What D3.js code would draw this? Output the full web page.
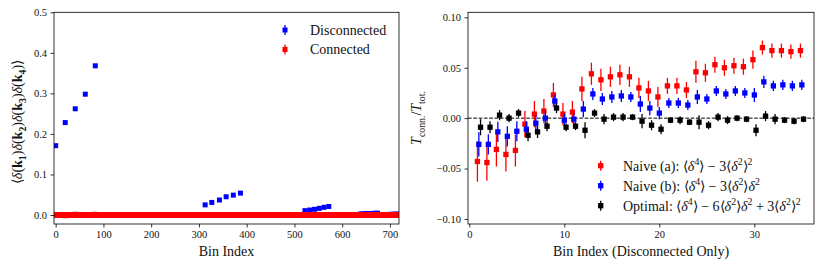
<!DOCTYPE html>
<html>
<head>
<meta charset="utf-8">
<script src="https://cdn.jsdelivr.net/npm/d3@7"></script>
<style>
  body { margin: 0; background: #fff; }
</style>
</head>
<body>
<svg width="826" height="273"></svg>
<script>
// left panel: all 4-point bins
const nBins = 720;
const discBins = [0, 20, 41, 62, 83,
  313, 327, 343, 357, 372, 387,
  522, 532, 542, 552, 562, 572,
  638, 643, 647, 652, 656, 661, 665, 670, 674,
  694, 697, 700, 703, 706, 709, 712, 715, 718];
const discVals = [0.171, 0.228, 0.262, 0.298, 0.368,
  0.025, 0.031, 0.037, 0.045, 0.049, 0.054,
  0.0107, 0.0123, 0.014, 0.0164, 0.019, 0.021,
  0.0025, 0.0027, 0.003, 0.0032, 0.0035, 0.0037, 0.004, 0.0042, 0.0045,
  0.0012, 0.0013, 0.0014, 0.0015, 0.0016, 0.0017, 0.0018, 0.0019, 0.002];
// connected part reads as zero everywhere except a few faint points
const connDevBins = [20, 41, 82];
const connDevVals = [-0.003, 0.003, 0.003];

// right panel: disconnected bins only
const bins = d3.range(1, 36);
const naiveA = [-0.043, -0.044, -0.031, -0.036, -0.032, -0.006, 0.004, 0.007, 0.023, 0.004,
  0.006, 0.029, 0.044, 0.038, 0.041, 0.043, 0.041, 0.030, 0.027, 0.021,
  0.032, 0.032, 0.028, 0.046, 0.045, 0.053, 0.050, 0.052, 0.051, 0.058,
  0.070, 0.067, 0.067, 0.066, 0.067];
const naiveAErr = [0.020, 0.018, 0.017, 0.017, 0.016, 0.013, 0.013, 0.012, 0.012, 0.011,
  0.011, 0.012, 0.011, 0.011, 0.010, 0.010, 0.010, 0.010, 0.010, 0.010,
  0.008, 0.008, 0.008, 0.011, 0.009, 0.008, 0.008, 0.008, 0.008, 0.009,
  0.007, 0.007, 0.007, 0.007, 0.007];
const naiveB = [-0.026, -0.026, -0.0136, -0.018, -0.013, -0.011, -0.005, 0.000, 0.017, -0.002,
  -0.001, 0.009, 0.024, 0.019, 0.021, 0.022, 0.021, 0.014, 0.010, 0.005,
  0.015, 0.015, 0.013, 0.021, 0.019, 0.027, 0.024, 0.027, 0.025, 0.023,
  0.036, 0.032, 0.033, 0.032, 0.033];
const naiveBErr = [0.012, 0.010, 0.010, 0.010, 0.010, 0.008, 0.008, 0.007, 0.006, 0.006,
  0.006, 0.008, 0.006, 0.006, 0.006, 0.006, 0.005, 0.008, 0.007, 0.006,
  0.005, 0.005, 0.005, 0.007, 0.005, 0.005, 0.005, 0.005, 0.005, 0.007,
  0.006, 0.005, 0.005, 0.005, 0.005];
const optimal = [-0.009, -0.009, 0.003, 0.000, 0.005, -0.017, -0.0136, -0.008, 0.010, -0.009,
  -0.008, -0.012, 0.005, -0.001, 0.001, 0.001, 0.001, -0.003, -0.007, -0.011,
  -0.002, -0.002, -0.004, -0.004, -0.007, 0.001, -0.002, 0.000, -0.001, -0.012,
  0.002, -0.001, -0.002, -0.003, -0.001];
const optimalErr = [0.008, 0.006, 0.005, 0.004, 0.004, 0.006, 0.006, 0.005, 0.005, 0.004,
  0.004, 0.008, 0.004, 0.005, 0.004, 0.004, 0.003, 0.007, 0.005, 0.005,
  0.003, 0.004, 0.003, 0.007, 0.004, 0.004, 0.004, 0.003, 0.003, 0.006,
  0.005, 0.005, 0.003, 0.003, 0.003];

const svg = d3.select("svg");
const serif = '"Liberation Serif"';
const tickFont = 10.5, labFont = 14;

function txt(sel, size) {
  return sel.append("text").style("font-family", serif).style("font-size", size + "px").attr("fill", "#111");
}

// text with italic / bold / sub / sup pieces
function rich(sel, parts, size) {
  let shift = 0;
  parts.forEach(p => {
    const ts = sel.append("tspan").text(p.t);
    if (p.i) ts.style("font-style", "italic");
    if (p.b) ts.style("font-weight", "bold");
    const target = p.sub ? size * 0.3 : p.sup ? -size * 0.4 : 0;
    if (target !== shift) ts.attr("dy", target - shift);
    if (p.sub || p.sup) ts.style("font-size", (size * 0.7) + "px");
    shift = target;
  });
}

function frame(g, w, h) {
  g.append("rect").attr("width", w).attr("height", h)
    .attr("fill", "none").attr("stroke", "#000").attr("stroke-width", 0.8);
}

function styleAxis(ax) {
  ax.attr("font-family", null).attr("font-size", null);
  ax.select(".domain").remove();
  ax.selectAll("line").attr("stroke-width", 0.8);
  ax.selectAll("text").style("font-family", serif).style("font-size", tickFont + "px").attr("fill", "#111");
}

// ---------- left panel ----------
const L = { x: 54, y: 12.3, w: 345, h: 211.7 };
const gl = svg.append("g").attr("transform", `translate(${L.x},${L.y})`);
const xl = d3.scaleLinear().domain([-3.5, 719]).range([0, L.w]);
const yl = d3.scaleLinear().domain([-0.0222, 0.5]).range([L.h, 0]);

gl.append("clipPath").attr("id", "clipL").append("rect").attr("width", L.w).attr("height", L.h);
const pl = gl.append("g").attr("clip-path", "url(#clipL)");
const ms = 5;

pl.selectAll(".disc").data(discBins).enter().append("rect")
  .attr("x", d => xl(d) - ms / 2)
  .attr("y", (d, i) => yl(discVals[i]) - ms / 2)
  .attr("width", ms).attr("height", ms).attr("fill", "#0000ff");

const connBins = d3.range(0, nBins);
pl.selectAll(".conn").data(connBins).enter().append("rect")
  .attr("x", d => xl(d) - ms / 2)
  .attr("y", yl(0) - ms / 2)
  .attr("width", ms).attr("height", ms).attr("fill", "#ff0000");
pl.selectAll(".conndev").data(connDevBins).enter().append("rect")
  .attr("x", d => xl(d) - ms / 2)
  .attr("y", (d, i) => yl(connDevVals[i]) - ms / 2)
  .attr("width", ms).attr("height", ms).attr("fill", "#ff0000").attr("opacity", 0.35);

const axLx = gl.append("g").attr("transform", `translate(0,${L.h})`)
  .call(d3.axisBottom(xl).tickValues(d3.range(0, 701, 100)).tickSize(3.5).tickPadding(3.5));
const axLy = gl.append("g")
  .call(d3.axisLeft(yl).tickValues([0, 0.1, 0.2, 0.3, 0.4, 0.5]).tickFormat(d3.format(".1f")).tickSize(3.5).tickPadding(3.5));
styleAxis(axLx); styleAxis(axLy);
frame(gl, L.w, L.h);

txt(gl, labFont).attr("x", L.w / 2).attr("y", 244).attr("text-anchor", "middle").text("Bin Index");

const ylab = txt(svg, 14).attr("transform", "translate(22,122) rotate(-90)").attr("text-anchor", "middle");
const yparts = [{ t: "\u27e8" }];
["1", "2", "3", "4"].forEach(n => {
  yparts.push({ t: "\u03b4", i: true }, { t: "(" }, { t: "k", b: true }, { t: n, sub: true, b: true }, { t: ")" });
});
yparts.push({ t: "\u27e9" });
rich(ylab, yparts, 14);

// left legend
const legL = [{ name: "Disconnected", c: "#0000ff" }, { name: "Connected", c: "#ff0000" }];
legL.forEach((d, i) => {
  const cy = 30 + i * 19.5;
  svg.append("line").attr("x1", 285).attr("x2", 285).attr("y1", cy - 5).attr("y2", cy + 5)
    .attr("stroke", d.c).attr("stroke-width", 1.3);
  svg.append("rect").attr("x", 285 - ms / 2).attr("y", cy - ms / 2).attr("width", ms).attr("height", ms).attr("fill", d.c);
  txt(svg, labFont).attr("x", 310).attr("y", cy + 4.8).text(d.name);
});

// ---------- right panel ----------
const R = { x: 468, y: 12.3, w: 346, h: 211.7 };
const gr = svg.append("g").attr("transform", `translate(${R.x},${R.y})`);
const xr = d3.scaleLinear().domain([-0.14, 36.28]).range([0, R.w]);
const yr = d3.scaleLinear().domain([-0.105, 0.105]).range([R.h, 0]);

gr.append("line").attr("x1", 0).attr("x2", R.w).attr("y1", yr(0)).attr("y2", yr(0))
  .attr("stroke", "#000").attr("stroke-width", 1).attr("stroke-dasharray", "3.7,1.6");

const series = [
  { vals: naiveA, err: naiveAErr, c: "#ff0000", off: -0.15 },
  { vals: naiveB, err: naiveBErr, c: "#0000ff", off: 0 },
  { vals: optimal, err: optimalErr, c: "#000000", off: 0.18 }
];
const rs = 5.3;
series.forEach(s => {
  const g = gr.append("g");
  g.selectAll("line").data(bins).enter().append("line")
    .attr("x1", d => xr(d + s.off)).attr("x2", d => xr(d + s.off))
    .attr("y1", (d, i) => yr(s.vals[i] - s.err[i]))
    .attr("y2", (d, i) => yr(s.vals[i] + s.err[i]))
    .attr("stroke", s.c).attr("stroke-width", 1.3);
  g.selectAll("rect").data(bins).enter().append("rect")
    .attr("x", d => xr(d + s.off) - rs / 2)
    .attr("y", (d, i) => yr(s.vals[i]) - rs / 2)
    .attr("width", rs).attr("height", rs).attr("fill", s.c);
});

const axRx = gr.append("g").attr("transform", `translate(0,${R.h})`)
  .call(d3.axisBottom(xr).tickValues([0, 10, 20, 30]).tickSize(3.5).tickPadding(3.5));
const axRy = gr.append("g")
  .call(d3.axisLeft(yr).tickValues([-0.1, -0.05, 0, 0.05, 0.1]).tickFormat(d3.format(".2f")).tickSize(3.5).tickPadding(3.5));
styleAxis(axRx); styleAxis(axRy);
frame(gr, R.w, R.h);

txt(gr, labFont).attr("x", R.w / 2).attr("y", 244).attr("text-anchor", "middle").text("Bin Index (Disconnected Only)");

const ylabR = txt(svg, labFont).attr("transform", "translate(421,118) rotate(-90)").attr("text-anchor", "middle");
rich(ylabR, [{ t: "T", i: true }, { t: "conn.", sub: true }, { t: "/" }, { t: "T", i: true }, { t: "tot.", sub: true }], labFont);

// right legend
const d4 = [{ t: "\u27e8" }, { t: "\u03b4", i: true }, { t: "4", sup: true }, { t: "\u27e9 \u2212 " }];
const legR = [
  { c: "#ff0000", parts: [{ t: "Naive (a): " }, ...d4, { t: "3\u27e8" }, { t: "\u03b4", i: true }, { t: "2", sup: true }, { t: "\u27e9" }, { t: "2", sup: true }] },
  { c: "#0000ff", parts: [{ t: "Naive (b): " }, ...d4, { t: "3\u27e8" }, { t: "\u03b4", i: true }, { t: "2", sup: true }, { t: "\u27e9" }, { t: "\u03b4", i: true }, { t: "2", sup: true }] },
  { c: "#000000", parts: [{ t: "Optimal: " }, ...d4, { t: "6\u27e8" }, { t: "\u03b4", i: true }, { t: "2", sup: true }, { t: "\u27e9" }, { t: "\u03b4", i: true }, { t: "2", sup: true }, { t: " + 3\u27e8" }, { t: "\u03b4", i: true }, { t: "2", sup: true }, { t: "\u27e9" }, { t: "2", sup: true }] }
];
legR.forEach((d, i) => {
  const cy = 165.7 + i * 20;
  svg.append("line").attr("x1", 600.7).attr("x2", 600.7).attr("y1", cy - 5).attr("y2", cy + 5)
    .attr("stroke", d.c).attr("stroke-width", 1.3);
  svg.append("rect").attr("x", 600.7 - rs / 2).attr("y", cy - rs / 2).attr("width", rs).attr("height", rs).attr("fill", d.c);
  const t = txt(svg, labFont).attr("x", 623).attr("y", cy + 4.8);
  rich(t, d.parts, labFont);
});
</script>
</body>
</html>
